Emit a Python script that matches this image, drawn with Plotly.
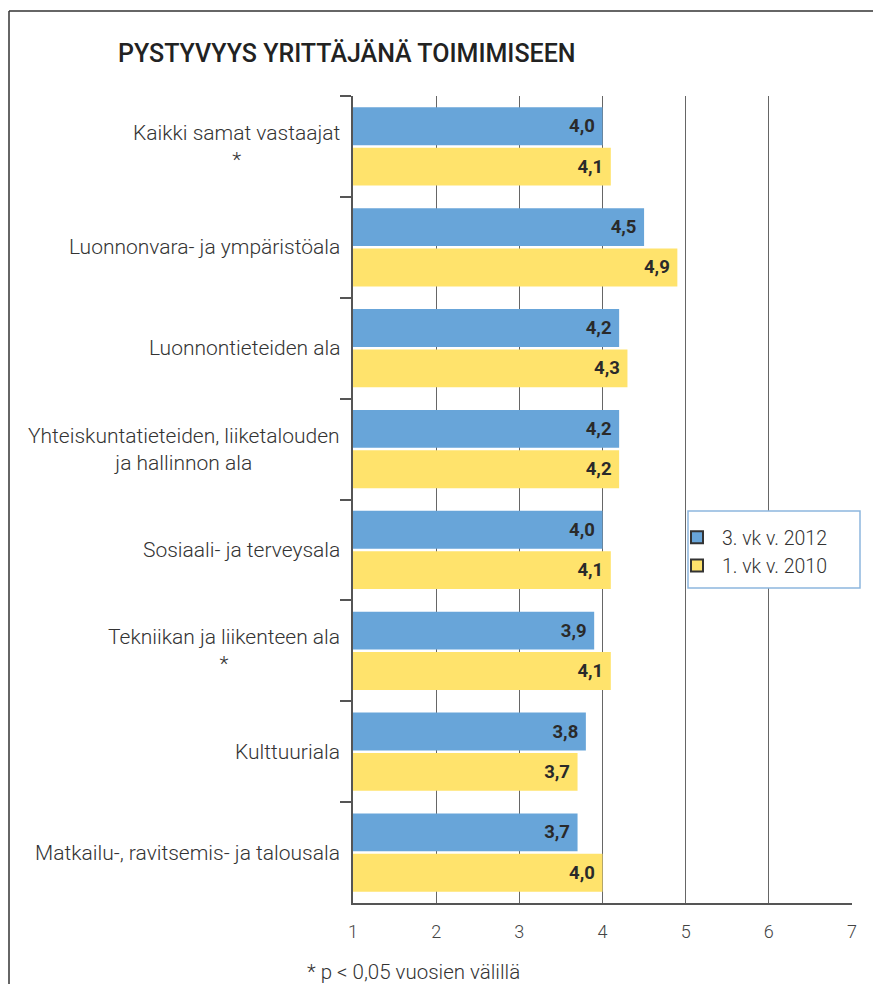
import plotly.graph_objects as go

CATEGORIES = [
    "Kaikki samat vastaajat<br>*",
    "Luonnonvara- ja ympäristöala",
    "Luonnontieteiden ala",
    "Yhteiskuntatieteiden, liiketalouden<br>ja hallinnon ala",
    "Sosiaali- ja terveysala",
    "Tekniikan ja liikenteen ala<br>*",
    "Kulttuuriala",
    "Matkailu-, ravitsemis- ja talousala",
]
VALUES_2012 = [4.0, 4.5, 4.2, 4.2, 4.0, 3.9, 3.8, 3.7]
VALUES_2010 = [4.1, 4.9, 4.3, 4.2, 4.1, 4.1, 3.7, 4.0]
X_TICKS = [1, 2, 3, 4, 5, 6, 7]

BLUE = "#68A5D9"
YELLOW = "#FFE36C"
FONT = "Roboto"

# the page body adds an 8px margin, so the figure starts at (8, 8)
OFF = 8
W, H = 881 - OFF, 992 - 2 * OFF
# plot area in screen pixels: x 353..852, y 96..903
PX0, PX1, PY0, PY1 = 353, 852, 96, 903
L, R, T, B = PX0 - OFF, W - (PX1 - OFF), PY0 - OFF, H - (PY1 - OFF)
PW, PH = PX1 - PX0, PY1 - PY0


def px_x(x):
    return (x - PX0) / PW


def px_y(y):
    return (PY1 - y) / PH


def fmt(v):
    return f"{v:.1f}".replace(".", ",") + "&nbsp;"


fig = go.Figure()
for name, vals, col in [("3. vk v. 2012", VALUES_2012, BLUE),
                        ("1. vk v. 2010", VALUES_2010, YELLOW)]:
    fig.add_trace(go.Bar(
        y=CATEGORIES, x=vals, orientation="h", marker_color=col,
        marker_line_width=0, showlegend=False,
        text=[fmt(v) for v in vals], textposition="inside",
        insidetextanchor="end", textangle=0, constraintext="none",
        textfont=dict(family=FONT, size=18.5, color="#2a2a2a", weight="bold"),
        hoverinfo="skip",
    ))
    fig.add_trace(go.Scatter(
        x=[None], y=[None], mode="markers", name=name,
        marker=dict(symbol="square", size=13, color=col,
                    line=dict(color="#333333", width=1.2)),
    ))

fig.update_layout(
    width=W, height=H, margin=dict(l=L, r=R, t=T, b=B),
    paper_bgcolor="white", plot_bgcolor="white",
    barmode="group", bargap=0.2, bargroupgap=0.06,
    font=dict(family=FONT, color="#333333"),
    legend=dict(
        x=px_x(672), y=px_y(518), xanchor="left", yanchor="top",
        bgcolor="rgba(0,0,0,0)", borderwidth=0,
        font=dict(family=FONT, size=19.5, color="#333333", weight=300),
        itemsizing="constant", itemwidth=40,
    ),
)
fig.update_xaxes(
    range=[1, 7], tickvals=X_TICKS, showgrid=True, gridcolor="#666666",
    gridwidth=1.2, showline=True, linecolor="#555555", linewidth=1.5,
    zeroline=False, ticks="", ticklabelstandoff=12,
    tickfont=dict(family=FONT, size=18, color="#444444", weight=300),
)
fig.update_yaxes(
    type="category", autorange="reversed", showticklabels=False,
    showline=True, linecolor="#555555", linewidth=1.5,
    ticks="outside", tickson="boundaries", ticklen=11,
    tickcolor="#555555", tickwidth=1.5, showgrid=False,
)

annotations = [dict(
    text="PYSTYVYYS YRITTÄJÄNÄ TOIMIMISEEN", xref="paper", yref="paper",
    x=px_x(116), y=px_y(53), xanchor="left", yanchor="middle",
    showarrow=False, font=dict(family=FONT, size=25, color="#222222",
                               weight=500),
)]
for cat in CATEGORIES:
    annotations.append(dict(
        text=cat, xref="paper", yref="y", x=px_x(342), y=cat,
        xanchor="right", yanchor="middle", align="center", showarrow=False,
        font=dict(family=FONT, size=21, color="#333333", weight=300),
    ))
annotations.append(dict(
    text="* p < 0,05 vuosien välillä", xref="paper", yref="paper",
    x=px_x(305), y=px_y(972), xanchor="left", yanchor="middle",
    showarrow=False, font=dict(family=FONT, size=20.5, color="#333333",
                               weight=300),
))
fig.update_layout(annotations=annotations)

# legend box
fig.add_shape(type="rect", xref="paper", yref="paper", layer="above",
              x0=px_x(688), x1=px_x(860), y0=px_y(511), y1=px_y(588),
              line=dict(color="#8DB6DE", width=1.5), fillcolor="white")
# outer frame: top and left edges
fig.add_shape(type="line", xref="paper", yref="paper",
              x0=px_x(9), x1=px_x(881), y0=px_y(11), y1=px_y(11),
              line=dict(color="#333333", width=1.5))
fig.add_shape(type="line", xref="paper", yref="paper",
              x0=px_x(9), x1=px_x(9), y0=px_y(11), y1=px_y(992),
              line=dict(color="#333333", width=1.5))

fig.write_html("out.html")
